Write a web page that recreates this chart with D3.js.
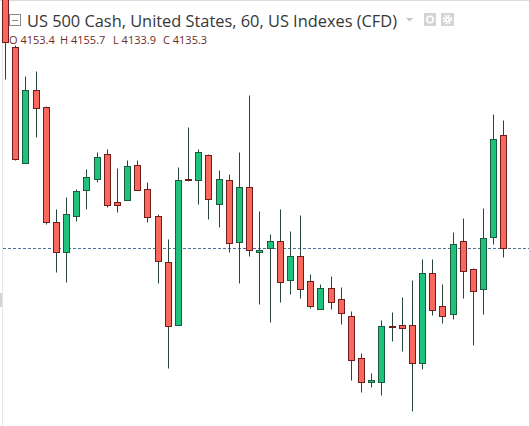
<!DOCTYPE html>
<html>
<head>
<meta charset="utf-8">
<script src="https://cdn.jsdelivr.net/npm/d3@7"></script>
<style>
  body { margin: 0; background: #fff; }
  svg { display: block; }
</style>
</head>
<body>
<div id="chart"></div>
<script>
// **** THE DATA ****
// US 500 Cash, 60 min candles
var opens  = [4176.5, 4167.4, 4148.9, 4160.5, 4157.9, 4139.5, 4134.6, 4140.5, 4144.5, 4146.3,
              4150.3, 4142.6, 4142.9, 4148.5, 4144.7, 4140.4, 4133.1, 4123.0, 4146.3, 4146.1,
              4150.1, 4142.4, 4146.1, 4136.2, 4145.0, 4134.7, 4135.3, 4136.5, 4130.2, 4134.0,
              4130.0, 4125.6, 4129.0, 4127.1, 4124.4, 4117.7, 4114.0, 4114.0, 4122.9, 4123.0,
              4123.0, 4117.0, 4131.4, 4126.0, 4124.7, 4136.5, 4131.9, 4128.7, 4137.0, 4153.4]
var highs  = [4177.0, 4167.7, 4162.7, 4163.5, 4158.0, 4141.5, 4143.5, 4144.8, 4147.9, 4150.6,
              4151.1, 4148.1, 4149.4, 4149.4, 4145.8, 4140.8, 4136.7, 4148.2, 4154.7, 4151.1,
              4150.3, 4147.8, 4147.1, 4150.6, 4159.7, 4141.2, 4137.5, 4141.5, 4138.0, 4140.6,
              4131.1, 4129.5, 4130.8, 4129.1, 4125.2, 4118.6, 4115.3, 4123.9, 4125.1, 4127.5,
              4130.2, 4133.5, 4133.5, 4129.6, 4137.9, 4140.1, 4132.2, 4141.7, 4156.7, 4155.7]
var lows   = [4162.3, 4149.3, 4148.9, 4153.1, 4139.1, 4131.5, 4129.9, 4139.6, 4141.6, 4145.9,
              4141.9, 4141.1, 4142.9, 4144.5, 4139.5, 4129.8, 4116.1, 4123.0, 4146.0, 4142.4,
              4140.0, 4138.7, 4134.6, 4129.8, 4134.1, 4126.4, 4123.5, 4126.7, 4128.0, 4127.4,
              4125.7, 4125.6, 4125.6, 4123.2, 4114.3, 4112.4, 4113.1, 4111.9, 4120.5, 4118.9,
              4109.3, 4116.0, 4124.6, 4123.4, 4124.0, 4127.4, 4119.9, 4124.8, 4135.9, 4133.9]
var closes = [4168.2, 4149.5, 4160.5, 4157.7, 4139.5, 4134.6, 4140.8, 4144.4, 4146.6, 4149.8,
              4142.2, 4142.2, 4148.4, 4144.6, 4140.2, 4133.2, 4122.8, 4146.2, 4146.1, 4150.6,
              4143.1, 4146.4, 4136.1, 4145.0, 4135.0, 4135.0, 4136.5, 4129.9, 4134.0, 4128.8,
              4126.1, 4128.9, 4126.7, 4124.9, 4117.5, 4114.0, 4114.3, 4122.8, 4122.7, 4122.5,
              4117.0, 4131.3, 4125.4, 4124.4, 4135.9, 4131.7, 4128.4, 4136.9, 4152.7, 4135.3]

var title = "US 500 Cash, United States, 60, US Indexes (CFD)"
var ohlcLabels = ["O", "H", "L", "C"]

var dataset = opens.map((o, i) => ({ o: o, h: highs[i], l: lows[i], c: closes[i] }))
var last = dataset[dataset.length - 1]

// **** THE SETUP ****
const width = 529
const height = 426

const xScale = d3.scaleBand()
    .domain(d3.range(dataset.length))
    .range([0, 508.5])

const yScale = d3.scaleLinear()
    .domain([4106.9, 4174.9])
    .range([height, 0])

const cx = (i) => Math.round(xScale(i) + xScale.step() / 2) + 0.5
const py = (v) => Math.round(yScale(v)) + 0.5

const upFill = "#1fc27c", upLine = "#1b5a3b"
const downFill = "#f9685d", downLine = "#6e1c1c"
const wickColor = "#27463a"

// **** PUT IT ON THE PAGE ****
const svg = d3.select("#chart").append("svg")
    .attr("width", width)
    .attr("height", height)

// pane frame
svg.append("line")
    .attr("x1", 0).attr("x2", width).attr("y1", 0.5).attr("y2", 0.5)
    .attr("stroke", "#dcdcdc")
svg.append("line")
    .attr("x1", 2.5).attr("x2", 2.5).attr("y1", 0).attr("y2", height)
    .attr("stroke", "#e4e4e4")
svg.append("rect")
    .attr("x", 0).attr("y", 293).attr("width", 2).attr("height", 14)
    .attr("fill", "#d3d3d3")

// last price line
svg.append("line")
    .attr("x1", 3).attr("x2", width)
    .attr("y1", py(last.c)).attr("y2", py(last.c))
    .attr("stroke", "#4d6f9e")
    .attr("stroke-dasharray", "3,2")

const candles = svg.selectAll(".candle")
    .data(dataset)
  .enter().append("g")
    .attr("class", "candle")

candles.append("line")
    .attr("x1", (d, i) => cx(i)).attr("x2", (d, i) => cx(i))
    .attr("y1", (d) => py(d.h)).attr("y2", (d) => py(d.l))
    .attr("stroke", wickColor)

candles.append("rect")
    .attr("x", (d, i) => cx(i) - 3)
    .attr("width", 6)
    .attr("y", (d) => py(Math.max(d.o, d.c)))
    .attr("height", (d) => Math.max(1, py(Math.min(d.o, d.c)) - py(Math.max(d.o, d.c))))
    .attr("fill", (d) => d.c >= d.o ? upFill : downFill)
    .attr("stroke", (d) => d.c >= d.o ? upLine : downLine)

// --> LEGEND / TITLE
const head = svg.append("g")

head.append("rect")
    .attr("x", 9.5).attr("y", 14.5).attr("width", 11).attr("height", 11)
    .attr("fill", "#fff").attr("stroke", "#8a8a8a")
head.append("line")
    .attr("x1", 12).attr("x2", 18).attr("y1", 20.5).attr("y2", 20.5)
    .attr("stroke", "#8a8a8a")

head.append("text")
    .attr("x", 27).attr("y", 26.5)
    .attr("font-family", "Open Sans, sans-serif")
    .attr("font-size", 16)
    .attr("fill", "#363636")
    .attr("textLength", 370)
    .attr("lengthAdjust", "spacingAndGlyphs")
    .text(title)

head.append("path")
    .attr("d", "M406,18 L413,18 L409.5,21.5 Z")
    .attr("fill", "#c4c4c4")

head.append("rect")
    .attr("x", 424).attr("y", 13).attr("width", 12).attr("height", 13)
    .attr("fill", "#d4d4d4")
head.append("circle")
    .attr("cx", 430).attr("cy", 19.5).attr("r", 3.2)
    .attr("fill", "none").attr("stroke", "#fff").attr("stroke-width", 1.6)
head.append("rect")
    .attr("x", 441).attr("y", 13).attr("width", 13).attr("height", 13)
    .attr("fill", "#d4d4d4")
head.append("circle")
    .attr("cx", 447.5).attr("cy", 19.5).attr("r", 3.6)
    .attr("fill", "none").attr("stroke", "#fff").attr("stroke-width", 2.4)
    .attr("stroke-dasharray", "1.6,1.2")
head.append("circle")
    .attr("cx", 447.5).attr("cy", 19.5).attr("r", 2.6)
    .attr("fill", "#fff")
head.append("circle")
    .attr("cx", 447.5).attr("cy", 19.5).attr("r", 1.1)
    .attr("fill", "#d4d4d4")

const ohlcValues = [last.o, last.h, last.l, last.c]
const ohlcX = [9, 60, 113, 163]
head.selectAll(".ohlc")
    .data(ohlcLabels)
  .enter().append("text")
    .attr("class", "ohlc")
    .attr("x", (d, i) => ohlcX[i]).attr("y", 44)
    .attr("font-family", "Open Sans, sans-serif")
    .attr("font-size", 11)
    .attr("fill", "#6e2b2b")
    .text((d, i) => d + " " + ohlcValues[i].toFixed(1))
</script>
</body>
</html>
